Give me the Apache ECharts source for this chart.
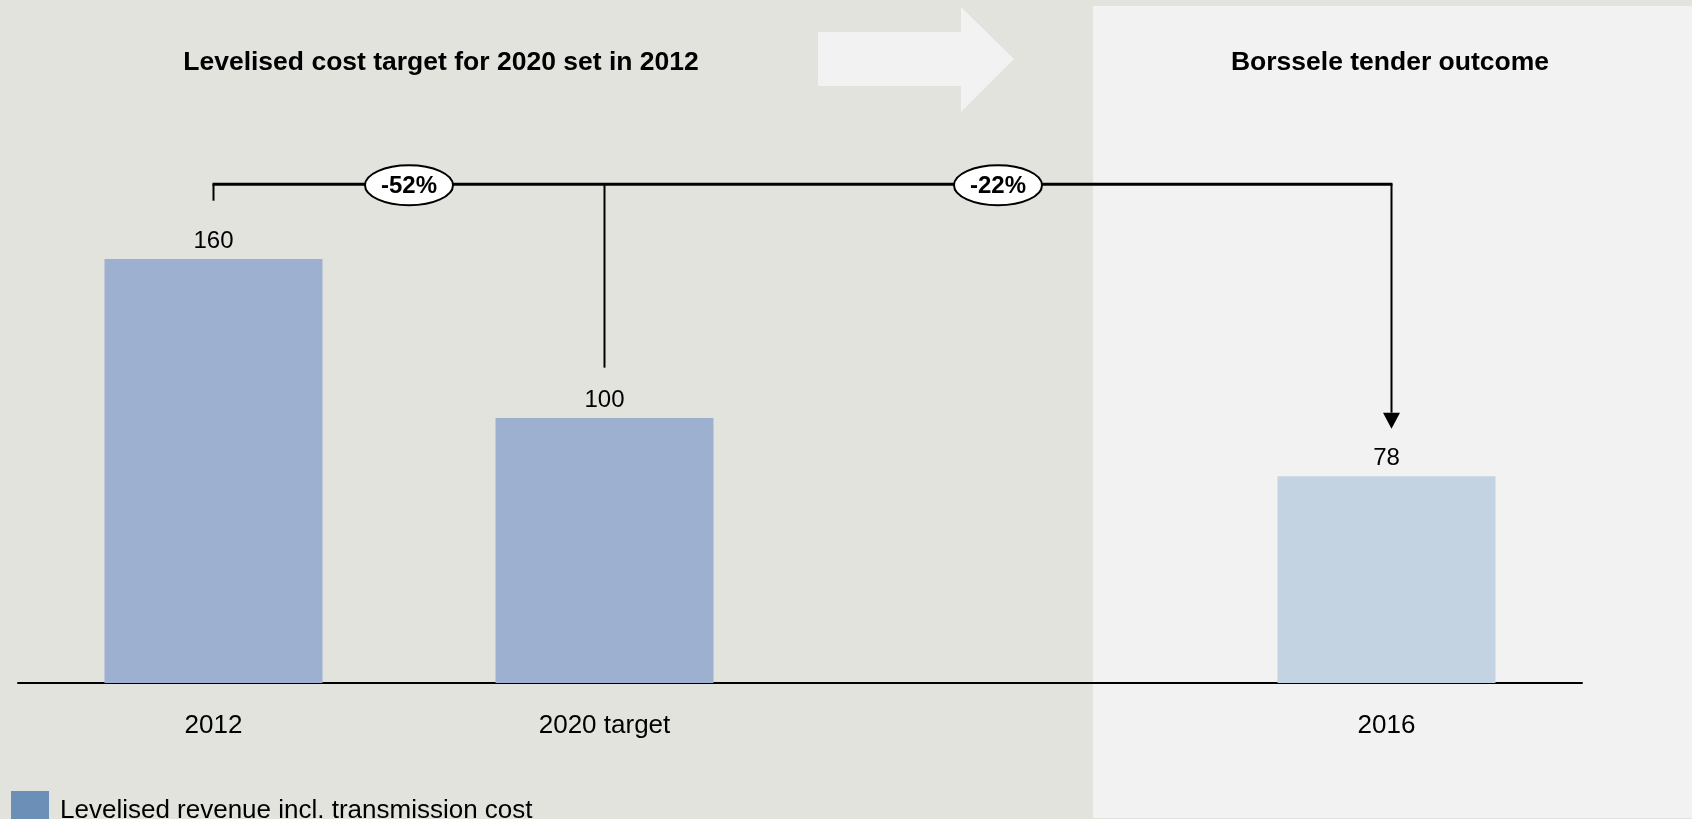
<!DOCTYPE html>
<html>
<head>
<meta charset="utf-8">
<script src="https://cdn.jsdelivr.net/npm/echarts@6/dist/echarts.min.js"></script>
<style>
  html, body { margin: 0; padding: 0; background: #E3E3DE; }
  #chart { width: 1692px; height: 819px; }
</style>
</head>
<body>
<div id="chart"></div>
<script>
// chart data
var categories = ['2012', '2020 target', '', '2016'];
var values = [160, 100, '-', 78];
var seriesName = 'Levelised revenue incl. transmission cost';
var changeLabels = ['-52%', '-22%'];
var panelTitles = ['Levelised cost target for 2020 set in 2012', 'Borssele tender outcome'];

// bracket annotation, in axis units (category index / value)
var bracketLevel = 188.2;
var bracketPoints = [0, 1, 3];
var bracketEnds = [182, 119, 102];

var font = "'Liberation Sans', Arial, sans-serif";
var barColors = ['#9DB0CF', '#9DB0CF', '#9DB0CF', '#C3D3E2'];

var chart = echarts.init(document.getElementById('chart'));

chart.setOption({
	backgroundColor: '#E3E3DE',
	animation: false,
	legend: {
		left: 11,
		top: 791,
		padding: 0,
		icon: 'rect',
		itemWidth: 38,
		itemHeight: 40,
		selectedMode: false,
		data: [{ name: seriesName, itemStyle: { color: '#6B8FB6' } }],
		textStyle: { fontSize: 26, color: '#000', fontFamily: font, padding: [0, 0, 0, 6] }
	},
	grid: { left: 18, right: 110, top: 153, bottom: 136 },
	xAxis: {
		type: 'category',
		data: categories,
		axisLine: { lineStyle: { color: '#000', width: 2 } },
		axisTick: { show: false },
		axisLabel: { margin: 30, fontSize: 26, color: '#000', fontFamily: font }
	},
	yAxis: { type: 'value', min: 0, max: 200, show: false },
	series: [{
		type: 'bar',
		name: seriesName,
		barWidth: 218,
		data: values.map(function(v, i) {
			return { value: v, itemStyle: { color: barColors[i] } };
		}),
		label: {
			show: true,
			position: 'top',
			distance: 6,
			fontSize: 24,
			color: '#000',
			fontFamily: font
		}
	}]
});

function px(i, v) {
	return chart.convertToPixel({ seriesIndex: 0 }, [i, v]);
}

var g = [];

// light panel on the right and the arrow pointing to it
g.push({
	type: 'rect', z: -5,
	shape: { x: 1093, y: 6, width: 599, height: 812 },
	style: { fill: '#F2F2F2' }
});
g.push({
	type: 'polygon', z: -5,
	shape: { points: [[818, 32], [961, 32], [961, 7], [1014, 59], [961, 112], [961, 86], [818, 86]] },
	style: { fill: '#F2F2F2' }
});

// panel titles
g.push({
	type: 'text', z: 10,
	style: { text: panelTitles[0], x: 441, y: 63, align: 'center', verticalAlign: 'middle',
		font: 'bold 26.5px ' + font, fill: '#000' }
});
g.push({
	type: 'text', z: 10,
	style: { text: panelTitles[1], x: 1390, y: 63, align: 'center', verticalAlign: 'middle',
		font: 'bold 26.5px ' + font, fill: '#000' }
});

// bracket
var starts = bracketPoints.map(function(i) { return px(i, bracketLevel); });
var ends = bracketPoints.map(function(i, k) { return px(i, bracketEnds[k]); });
// the arrow sits a little right of the 2016 bar centre in the original
starts[2][0] += 5;
ends[2][0] += 5;
var yB = starts[0][1];

g.push({
	type: 'line', z: 10,
	shape: { x1: starts[0][0] - 1, y1: yB, x2: starts[2][0] + 1, y2: yB },
	style: { stroke: '#000', lineWidth: 3 }
});
for (var k = 0; k < 3; k++) {
	g.push({
		type: 'line', z: 10,
		shape: { x1: starts[k][0], y1: yB, x2: ends[k][0], y2: ends[k][1] },
		style: { stroke: '#000', lineWidth: 2 }
	});
}
// arrow head at the last point
var tip = ends[2];
g.push({
	type: 'polygon', z: 10,
	shape: { points: [[tip[0] - 8.5, tip[1]], [tip[0] + 8.5, tip[1]], [tip[0], tip[1] + 16]] },
	style: { fill: '#000' }
});

// change bubbles between bracket points
for (var j = 0; j < changeLabels.length; j++) {
	var cx = (starts[j][0] + starts[j + 1][0]) / 2;
	g.push({
		type: 'ellipse', z: 11,
		shape: { cx: cx, cy: yB + 1, rx: 44, ry: 20 },
		style: { fill: '#fff', stroke: '#000', lineWidth: 2 }
	});
	g.push({
		type: 'text', z: 12,
		style: { text: changeLabels[j], x: cx, y: yB + 2, align: 'center', verticalAlign: 'middle',
			font: 'bold 24px ' + font, fill: '#000' }
	});
}

chart.setOption({ graphic: g });
</script>
</body>
</html>
